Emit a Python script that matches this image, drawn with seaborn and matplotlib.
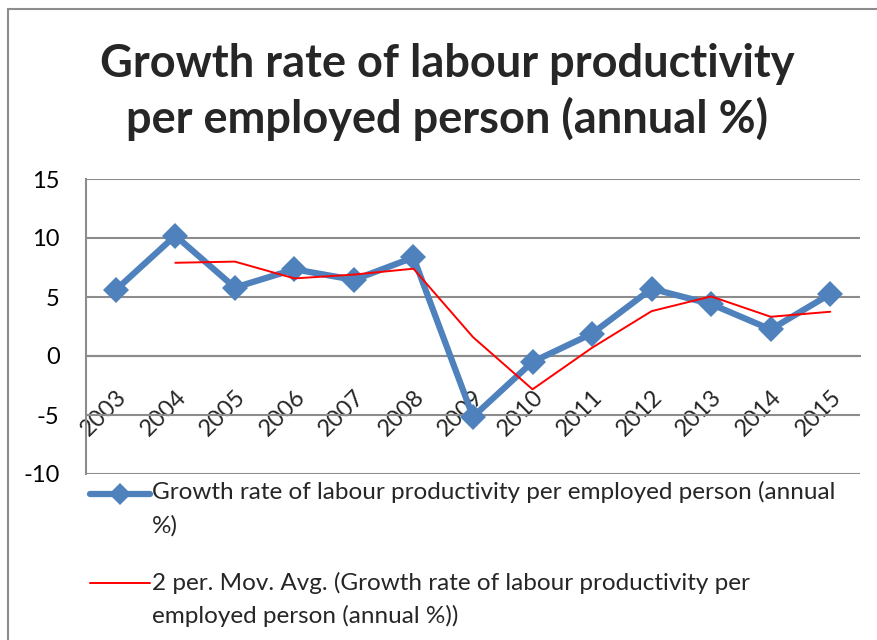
import pandas as pd
import matplotlib.pyplot as plt
import seaborn as sns
from matplotlib.lines import Line2D

years = ["2003", "2004", "2005", "2006", "2007", "2008", "2009",
         "2010", "2011", "2012", "2013", "2014", "2015"]
growth = [5.6, 10.2, 5.8, 7.35, 6.45, 8.35, -5.15, -0.5, 1.9, 5.7, 4.4, 2.25, 5.25]

series_name = "Growth rate of labour productivity per employed person (annual\n%)"
trend_name = "2 per. Mov. Avg. (Growth rate of labour productivity per\nemployed person (annual %))"

df = pd.DataFrame({"year": years, "value": growth})
df["pos"] = range(len(df))
# Excel-style 2 period moving average trendline
df["mov_avg"] = df["value"].rolling(2).mean()

sns.set_theme(style="white")
plt.rcParams["font.family"] = ["Lato", "DejaVu Sans"]
plt.rcParams["axes.unicode_minus"] = False

BLUE = "#4F81BD"
GRID = "#8C8C8C"

fig = plt.figure(figsize=(8.77, 6.4), dpi=100)
ax = fig.add_axes([86/877, 1 - 474/640, (860-86)/877, (474-179)/640])

sns.lineplot(data=df, x="pos", y="value", ax=ax, color=BLUE, linewidth=4.5,
             marker="D", markersize=13, markeredgewidth=0, zorder=3)
sns.lineplot(data=df.dropna(), x="pos", y="mov_avg", ax=ax, color="red",
             linewidth=1.4, zorder=4)

ax.set_xlim(-0.5, len(years) - 0.5)
ax.set_ylim(-10, 15)
ax.set_yticks([-10, -5, 0, 5, 10, 15])
ax.set_xticks(df["pos"], years)
ax.set_xlabel("")
ax.set_ylabel("")

ax.yaxis.grid(True, color=GRID, linewidth=1.5)
ax.set_axisbelow(True)
for s in ["top", "right"]:
    ax.spines[s].set_visible(False)
ax.spines["left"].set_color(GRID)
ax.spines["left"].set_linewidth(1.5)
ax.spines["bottom"].set_position(("data", 0))
ax.spines["bottom"].set_color(GRID)
ax.spines["bottom"].set_linewidth(1.5)

ax.tick_params(axis="y", length=5, color=GRID, width=1.5, labelsize=17, pad=14)
ax.tick_params(axis="y", labelcolor="black")
ax.tick_params(axis="x", length=0, labelsize=17, pad=22)
plt.setp(ax.get_xticklabels(), rotation=45, ha="right", rotation_mode="anchor")

fig.text(0.51, 1 - 92/640, "Growth rate of labour productivity\nper employed person (annual %)",
         ha="center", va="center", fontsize=32.5, fontweight="bold", linespacing=1.3)

# legend below the plot
fig.add_artist(Line2D([90/877, 150/877], [1 - 494/640] * 2, color=BLUE, linewidth=4.5))
fig.add_artist(Line2D([120/877], [1 - 494/640], color=BLUE, marker="D", markersize=11,
                      markeredgewidth=0))
fig.text(152/877, 1 - 481/640, series_name, ha="left", va="top", fontsize=17.5,
         linespacing=1.68)
fig.add_artist(Line2D([90/877, 150/877], [1 - 583/640] * 2, color="red", linewidth=1.4))
fig.text(152/877, 1 - 572/640, trend_name, ha="left", va="top", fontsize=17.5,
         linespacing=1.6)

# chart area border
fig.add_artist(Line2D([8/877, 8/877], [0, 1 - 9/640], color=GRID, linewidth=1.5))
fig.add_artist(Line2D([8/877, 1], [1 - 9/640, 1 - 9/640], color=GRID, linewidth=1.5))

fig.savefig("out.png", dpi=100)
